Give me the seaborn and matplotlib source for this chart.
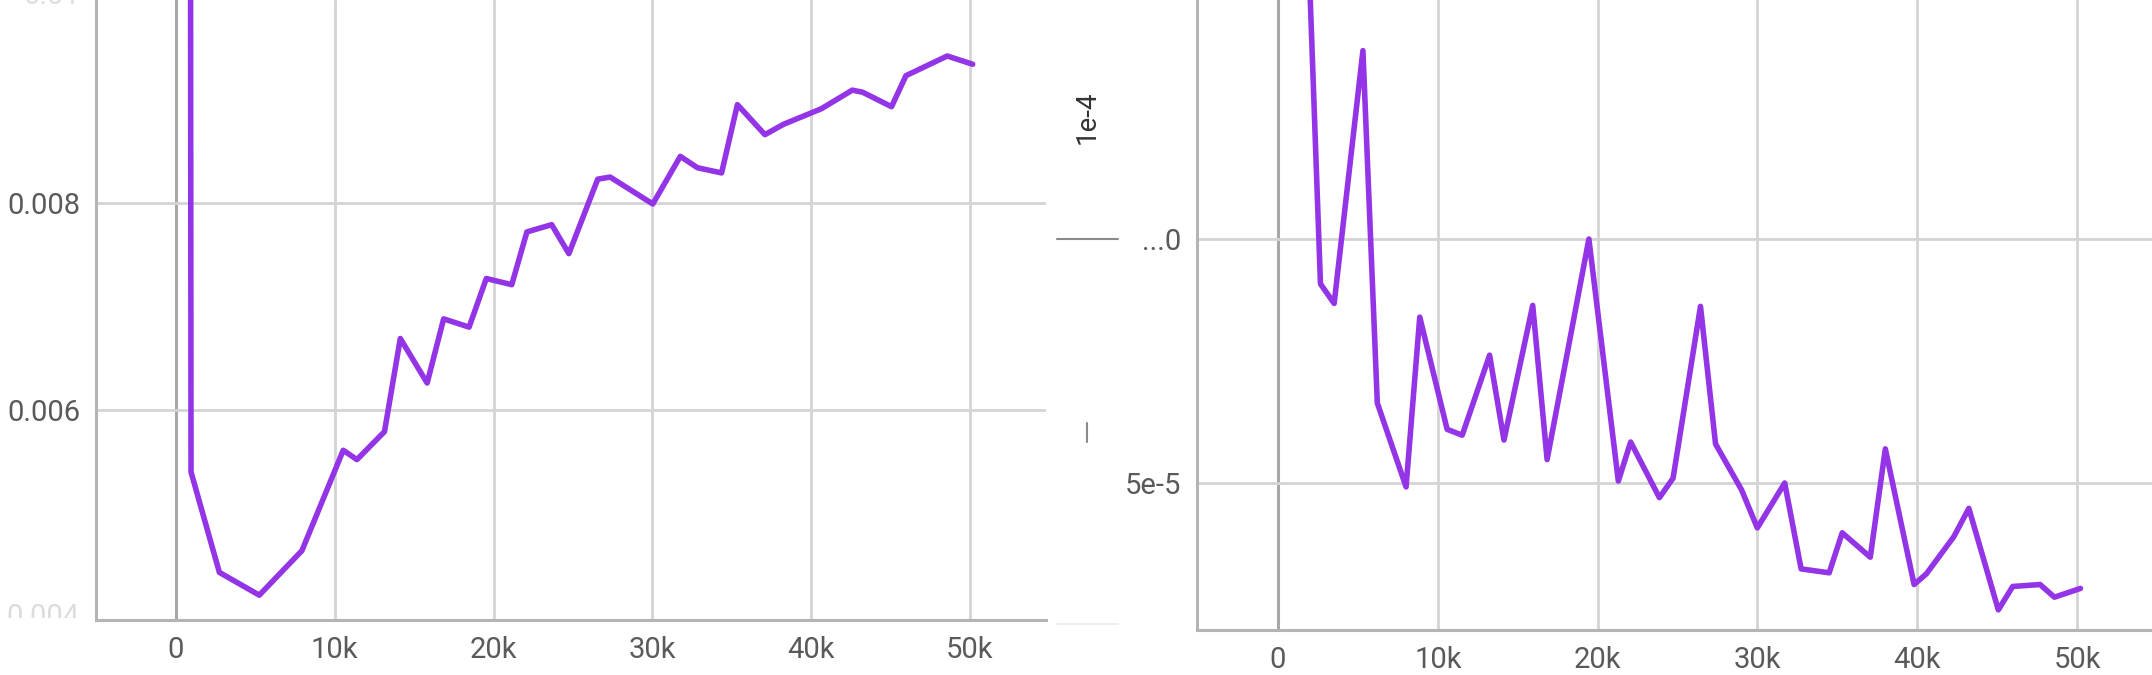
import matplotlib
matplotlib.use("Agg")
import matplotlib.pyplot as plt
import seaborn as sns
import pandas as pd
from matplotlib.lines import Line2D
from matplotlib.transforms import Bbox

# ---------------- data ----------------
left_steps = [900, 945, 2730, 5243, 7929, 10530, 11395, 13128, 14125, 15815, 16854,
              18458, 19541, 21144, 22097, 23657, 24740, 26560, 27340, 30026, 31759,
              32842, 34359, 35355, 37088, 38258, 40641, 42591, 43241, 45061, 45971,
              48570, 50173]
left_values = [0.0125, 0.00540, 0.00443, 0.00421, 0.00464, 0.00561, 0.00552, 0.00579,
               0.00669, 0.00626, 0.00688, 0.00680, 0.00727, 0.00721, 0.00772, 0.00779,
               0.00751, 0.00823, 0.00825, 0.00799, 0.00845, 0.00834, 0.00829, 0.00895,
               0.00866, 0.00876, 0.00891, 0.00909, 0.00907, 0.00893, 0.00923, 0.00942,
               0.00934]

right_steps = [1000, 2656, 3513, 5313, 6213, 8012, 8869, 10583, 11525, 13239, 14139,
               15938, 16838, 19452, 21294, 22066, 23865, 24722, 26436, 27378, 29006,
               29992, 31706, 32734, 34490, 35304, 37061, 38003, 39803, 40574, 42288,
               43230, 45073, 45973, 47686, 48586, 50214]
right_values = [1.46e-4, 7.04e-5, 6.84e-5, 9.43e-5, 5.82e-5, 4.96e-5, 6.70e-5, 5.55e-5,
                5.49e-5, 6.31e-5, 5.44e-5, 6.82e-5, 5.24e-5, 7.50e-5, 5.02e-5, 5.42e-5,
                4.85e-5, 5.05e-5, 6.81e-5, 5.40e-5, 4.93e-5, 4.54e-5, 5.00e-5, 4.12e-5,
                4.08e-5, 4.49e-5, 4.24e-5, 5.35e-5, 3.96e-5, 4.07e-5, 4.45e-5, 4.74e-5,
                3.70e-5, 3.94e-5, 3.96e-5, 3.83e-5, 3.92e-5]

x_ticks = [0, 10000, 20000, 30000, 40000, 50000]
x_ticklabels = ["0", "10k", "20k", "30k", "40k", "50k"]
left_yticks = [0.006, 0.008]
left_yticklabels = ["0.006", "0.008"]
right_yticks = [5e-5, 7.5e-5]
right_yticklabels = ["5e-5", "...0"]

# ---------------- style ----------------
sns.set_style("white")
plt.rcParams['font.family'] = ['Roboto', 'DejaVu Sans']

W, H = 2152, 675
fig = plt.figure(figsize=(W / 100, H / 100), dpi=100)


def rect(x0, x1, ytop, ybot):
    return [x0 / W, 1 - ybot / H, (x1 - x0) / W, (ybot - ytop) / H]


PURPLE = "#9334E6"
ax1 = fig.add_axes(rect(96, 1046, 0, 620))
ax2 = fig.add_axes(rect(1197, 2152, 0, 630))

df1 = pd.DataFrame({"step": left_steps, "value": left_values})
df2 = pd.DataFrame({"step": right_steps, "value": right_values})

line_kw = dict(color=PURPLE, lw=4.0, estimator=None, sort=False, zorder=5,
               solid_joinstyle="round", solid_capstyle="round")
sns.lineplot(data=df1, x="step", y="value", ax=ax1, **line_kw)
sns.lineplot(data=df2, x="step", y="value", ax=ax2, **line_kw)

ax1.set_xlim(-5040, 54790)
ax1.set_ylim(0.00397, 0.009961)
ax2.set_xlim(-5070, 54690)
ax2.set_ylim(3.494e-5, 9.949e-5)

for ax, yt, ytl in [(ax1, left_yticks, left_yticklabels),
                    (ax2, right_yticks, right_yticklabels)]:
    ax.set_xticks(x_ticks)
    ax.set_xticklabels(x_ticklabels)
    ax.set_yticks(yt)
    ax.set_yticklabels(ytl)
    ax.set_xlabel("")
    ax.set_ylabel("")
    for s in ["top", "right"]:
        ax.spines[s].set_visible(False)
    for s in ["left", "bottom"]:
        ax.spines[s].set_color("#b4b4b4")
        ax.spines[s].set_linewidth(2.2)
    ax.tick_params(axis="both", length=0, pad=11.5, labelsize=21, labelcolor="#5a5a5a")
    ax.set_axisbelow(True)
    ax.grid(True, color="#d4d4d4", lw=2.0)
    # zero gridline darker
    ax.get_xgridlines()[0].set_color("#a8a8a8")
    ax.get_xgridlines()[0].set_linewidth(2.2)
    ax.set_facecolor("white")

# faded, partially hidden labels of the left panel
fig.text(80 / W, 1 - (-4) / H, "0.01", ha="right", va="center", fontsize=21,
         color="#dedede")
t = fig.text(80 / W, 1 - 617 / H, "0.004", ha="right", va="center", fontsize=21,
             color="#dcdcdc")
t.set_clip_box(Bbox([[0, H - 618], [W, H]]))
t.set_clip_on(True)

# stray marks between the panels
fig.text(1087 / W, 1 - 117 / H, "1e-4", rotation=90, ha="center", va="center",
         fontsize=20, color="#333333")
fig.add_artist(Line2D([1057 / W, 1118 / W], [1 - 239 / H, 1 - 239 / H],
                      transform=fig.transFigure, color="#8a8a8a", lw=1.5))
fig.add_artist(Line2D([1087 / W, 1087 / W], [1 - 423 / H, 1 - 442 / H],
                      transform=fig.transFigure, color="#8a8a8a", lw=1.5))
fig.add_artist(Line2D([1057 / W, 1118 / W], [1 - 624 / H, 1 - 624 / H],
                      transform=fig.transFigure, color="#eeeeee", lw=1.5))

fig.savefig("out.png", dpi=100, facecolor="white")
